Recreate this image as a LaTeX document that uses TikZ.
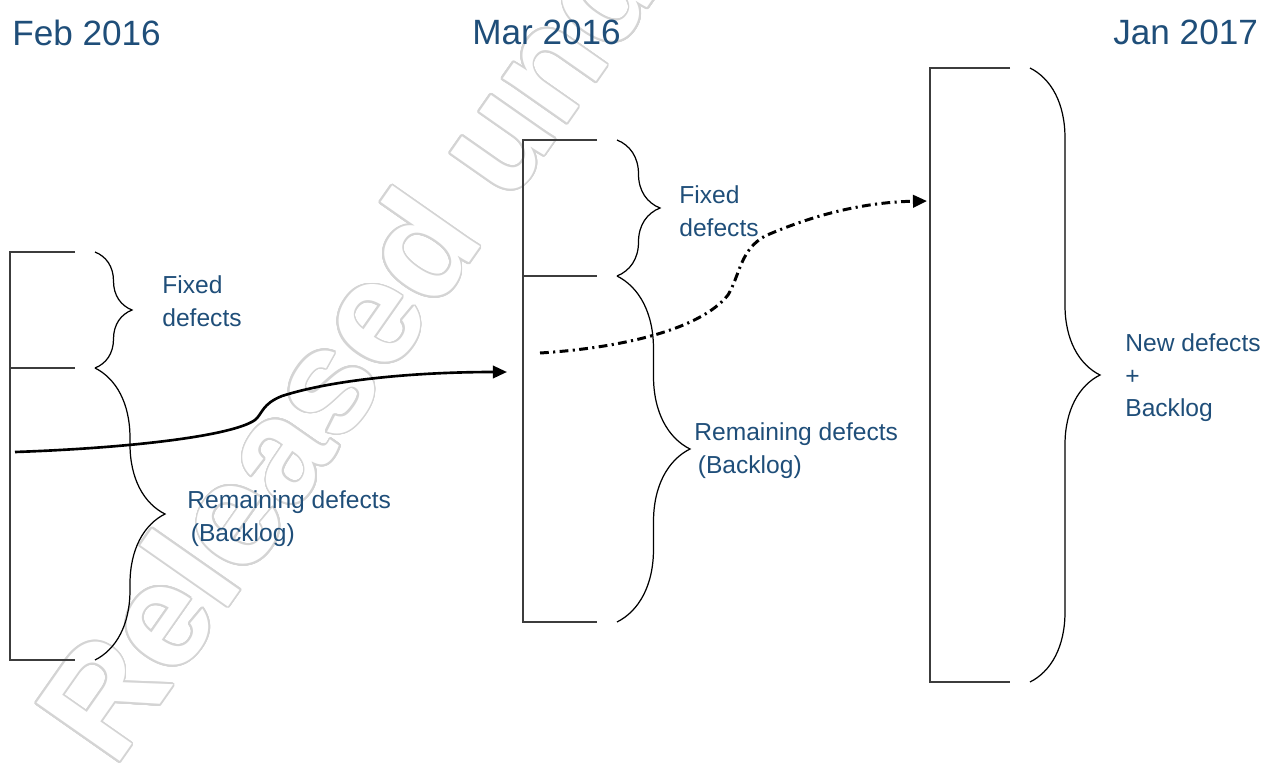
\documentclass[tikz,border=0pt]{standalone}
\usepackage{fontspec}
\setmainfont{Liberation Sans}
\usepackage[copies]{contour}
\usetikzlibrary{arrows.meta,decorations.pathreplacing}

\definecolor{labelblue}{RGB}{31,78,121}
\definecolor{barline}{RGB}{60,60,60}
\contourlength{1pt}
\contournumber{32}

\tikzset{
	yearlabel/.style={anchor=north west,inner sep=0,text=labelblue,font=\fontsize{20}{24}\selectfont},
	partlabel/.style={anchor=north west,inner sep=0,text=labelblue,align=left,font=\fontsize{14}{18.7}\selectfont},
	bar/.style={draw=barline,line width=1.1pt},
	curly/.style={draw,line width=0.7pt,decorate,decoration={brace,amplitude=#1}},
	flow/.style={line width=1.5pt,-{Triangle[length=8pt,width=7pt]}}
}

\begin{document}
\begin{tikzpicture}[x=0.02cm,y=-0.02cm]

\useasboundingbox (0,0) rectangle (1279,771);

% Stamp behind everything:
\begin{scope}
	\clip (0,0) rectangle (1279,771);
	\node[rotate=55,anchor=base west,inner sep=0,font=\bfseries\fontsize{84}{84}\selectfont] (stamp) at (114,770) {\contour{black!17}{\textcolor{white}{Released under}}};
\end{scope}

\node[yearlabel] (feb) at (12,20) {Feb 2016};
\node[yearlabel] (mar) at (472,20) {Mar 2016};
\node[yearlabel] (jan) at (1113,20) {Jan 2017};

% Bars:
\draw[bar] (75,252) -- (10,252) -- (10,660) -- (75,660);
\draw[bar] (10,368) -- (75,368);
\draw[bar] (597,140) -- (523,140) -- (523,622) -- (597,622);
\draw[bar] (523,276) -- (597,276);
\draw[bar] (1010,68) -- (930,68) -- (930,682) -- (1010,682);

% Braces:
\draw[curly=0.74cm] (95,252) -- (95,368);
\draw[curly=1.4cm] (95,368) -- (95,660);
\draw[curly=0.86cm] (617,140) -- (617,276);
\draw[curly=1.46cm] (617,276) -- (617,622);
\draw[curly=1.4cm] (1030,68) -- (1030,682);

\node[partlabel] (febfixed) at (162,275) {Fixed\\defects};
\node[partlabel] (febrest) at (187,490) {Remaining defects\\\hspace{2pt}(Backlog)};
\node[partlabel] (marfixed) at (679,185) {Fixed\\defects};
\node[partlabel] (marrest) at (694,422) {Remaining defects\\\hspace{2pt}(Backlog)};
\node[partlabel] (jannew) at (1125,333) {New defects\\+\\Backlog};

\coordinate (febout) at (15,452);
\coordinate (marin) at (507,372);
\coordinate (marout) at (540,353);
\coordinate (janin) at (927,201);

\draw[flow] (febout) .. controls (130,448) and (232,436) .. (255,420) .. controls (263,413) and (262,404) .. (282,396) .. controls (335,379) and (420,372) .. (marin);
\draw[flow,line width=1.7pt,dash pattern=on 5pt off 2.5pt on 1.2pt off 2.5pt] (marout) .. controls (620,348) and (700,330) .. (728,295) .. controls (740,275) and (740,250) .. (765,236) .. controls (820,212) and (870,202) .. (janin);

\end{tikzpicture}
\end{document}
